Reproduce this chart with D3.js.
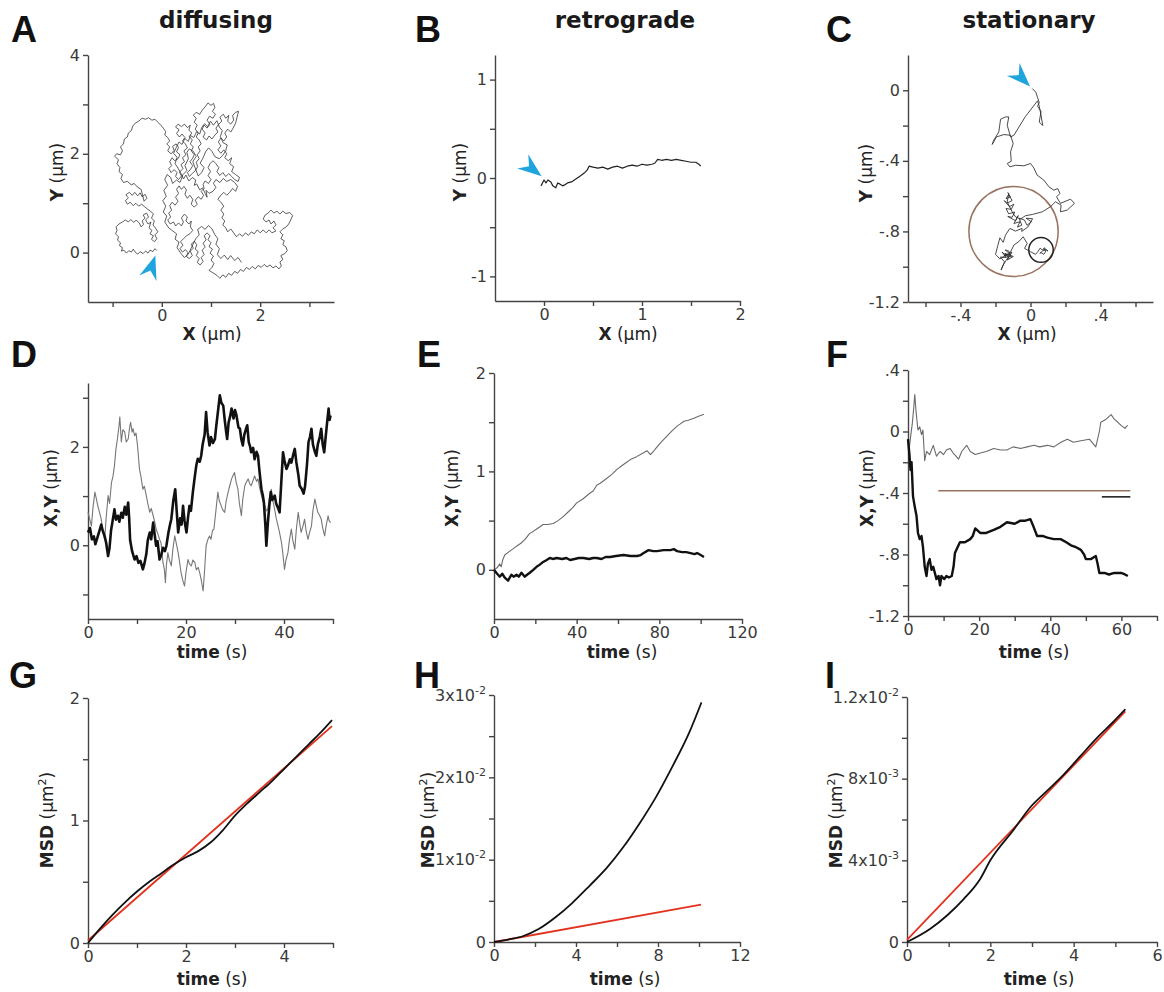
<!DOCTYPE html>
<html>
<head>
<meta charset="utf-8">
<script src="https://cdn.jsdelivr.net/npm/d3@7"></script>
<style>
  body { margin: 0; background: #fff; }
  svg { font-family: "DejaVu Sans", "Liberation Sans", Arial, sans-serif; }
  .axis path, .axis line { stroke: #444; stroke-width: 1.4px; }
  .axis text { fill: #3a3a3a; font-size: 16px; font-family: "DejaVu Sans", sans-serif; }
</style>
</head>
<body>
<svg id="fig" width="1164" height="992"></svg>
<script>
// ---------- data (µm, s) ----------
const titles = ["diffusing", "retrograde", "stationary"];
const letters = ["A", "B", "C", "D", "E", "F", "G", "H", "I"];

// 2D trajectories [x, y]
const trackA = [[-0.10,0.04],[-0.14,0.08],[-0.18,0.02],[-0.24,0.05],[-0.28,-0.01],[-0.33,0.03],[-0.38,-0.02],[-0.44,0.02],[-0.49,-0.03],[-0.54,0.01],[-0.58,0.07],[-0.62,0.01],[-0.67,0.04],[-0.72,-0.01],[-0.77,0.05],[-0.82,0.03],[-0.80,0.10],[-0.86,0.14],[-0.84,0.20],[-0.90,0.25],[-0.88,0.32],[-0.94,0.38],[-0.91,0.45],[-0.93,0.52],[-0.87,0.58],[-0.80,0.62],[-0.74,0.66],[-0.68,0.62],[-0.63,0.67],[-0.57,0.61],[-0.52,0.66],[-0.46,0.60],
  [-0.42,0.52],[-0.37,0.57],[-0.40,0.64],[-0.34,0.70],[-0.38,0.76],[-0.31,0.80],[-0.27,0.72],[-0.33,0.66],[-0.28,0.58],[-0.22,0.62],[-0.26,0.50],[-0.20,0.45],[-0.24,0.38],[-0.17,0.34],[-0.21,0.27],[-0.15,0.22],[-0.10,0.28],[-0.14,0.36],[-0.08,0.42],[-0.13,0.50],[-0.18,0.56],[-0.15,0.64],[-0.21,0.70],[-0.17,0.78],[-0.23,0.84],[-0.29,0.88],
  [-0.35,0.93],[-0.41,0.98],[-0.47,0.94],[-0.53,1.00],[-0.58,0.95],[-0.64,1.02],[-0.70,0.98],[-0.74,1.05],[-0.68,1.11],[-0.73,1.17],[-0.66,1.22],[-0.60,1.16],[-0.55,1.22],[-0.49,1.15],[-0.44,1.21],[-0.40,1.13],[-0.34,1.18],[-0.30,1.10],[-0.36,1.04],
  [-0.42,1.28],[-0.50,1.33],[-0.56,1.40],[-0.62,1.37],[-0.70,1.44],[-0.78,1.42],[-0.83,1.50],[-0.80,1.58],[-0.87,1.64],[-0.85,1.72],[-0.91,1.80],[-0.88,1.88],[-0.96,1.95],[-0.92,2.00],[-0.84,1.98],[-0.80,2.06],[-0.84,2.14],[-0.78,2.20],[-0.76,2.30],[-0.70,2.34],[-0.68,2.42],[-0.62,2.47],[-0.59,2.56],[-0.54,2.62],[-0.47,2.66],[-0.40,2.72],[-0.33,2.70],[-0.27,2.73],[-0.20,2.68],[-0.14,2.70],[-0.08,2.64],[-0.02,2.58],[0.03,2.52],[0.08,2.45],[0.06,2.38],[0.12,2.33],[0.16,2.26],
  [0.10,2.20],[0.16,2.14],[0.12,2.06],[0.19,2.00],[0.25,2.07],[0.22,2.15],[0.29,2.20],[0.34,2.13],[0.30,2.04],[0.37,1.98],[0.33,1.90],[0.26,1.86],[0.21,1.92],[0.16,1.84],[0.20,1.76],[0.14,1.70],[0.19,1.62],[0.25,1.68],[0.31,1.62],[0.28,1.54],[0.34,1.48],[0.40,1.55],[0.36,1.63],[0.43,1.70],[0.39,1.78],[0.46,1.84],[0.42,1.92],[0.49,1.98],[0.45,2.06],[0.52,2.12],[0.48,2.20],[0.42,2.26],[0.47,2.33],[0.41,2.40],[0.36,2.34],[0.30,2.41],[0.35,2.49],[0.28,2.54],[0.33,2.60],[0.40,2.55],[0.46,2.60],[0.52,2.53],[0.58,2.58],[0.55,2.48],[0.61,2.42],[0.56,2.35],[0.62,2.28],[0.58,2.20],[0.64,2.14],[0.60,2.06],[0.66,1.98],[0.62,1.90],[0.57,1.84],[0.63,1.76],[0.58,1.68],[0.52,1.62],[0.56,1.54],
  [0.62,1.60],[0.68,1.66],[0.73,1.74],[0.70,1.83],[0.76,1.90],[0.72,1.98],[0.78,2.06],[0.74,2.14],[0.80,2.20],[0.76,2.28],[0.70,2.34],[0.74,2.42],[0.68,2.50],[0.72,2.58],[0.66,2.64],[0.70,2.72],[0.64,2.78],[0.70,2.84],[0.77,2.80],[0.82,2.88],[0.88,2.95],[0.94,3.03],[1.00,2.98],[1.05,3.02],[1.08,2.94],[1.03,2.86],[1.09,2.80],[1.04,2.72],[0.97,2.76],[0.92,2.68],[0.98,2.60],[0.92,2.52],[0.86,2.58],[0.82,2.50],[0.88,2.42],[0.84,2.34],[0.91,2.28],[0.96,2.36],[1.02,2.30],[1.08,2.38],[1.14,2.44],[1.10,2.52],[1.16,2.60],[1.22,2.66],[1.18,2.74],[1.25,2.80],[1.30,2.72],[1.36,2.78],[1.34,2.66],[1.40,2.60],[1.46,2.68],[1.44,2.78],[1.50,2.84],[1.56,2.86],[1.53,2.74],[1.50,2.62],[1.45,2.52],[1.40,2.44],[1.34,2.50],[1.28,2.42],[1.32,2.34],[1.26,2.26],[1.20,2.32],[1.15,2.24],[1.20,2.16],[1.14,2.08],[1.20,2.01],[1.26,2.08],[1.32,2.00],[1.28,1.92],[1.35,1.86],[1.42,1.92],[1.38,1.80],[1.46,1.74],[1.42,1.64],[1.50,1.58],[1.58,1.52],[1.55,1.44],[1.48,1.48],[1.42,1.54],[1.36,1.60],[1.30,1.54],[1.24,1.62],[1.18,1.56],[1.12,1.64],[1.16,1.72],[1.10,1.80],[1.04,1.86],[0.98,1.80],[0.94,1.72],[0.99,1.64],[0.94,1.56],[1.00,1.48],[0.95,1.40],[0.88,1.45],[0.84,1.38],
  [0.86,1.30],[0.80,1.24],[0.85,1.16],[0.80,1.08],[0.74,1.13],[0.68,1.06],[0.72,0.98],[0.66,0.92],[0.60,0.98],[0.63,1.08],[0.57,1.16],[0.52,1.10],[0.47,1.18],[0.50,1.27],[0.45,1.34],[0.40,1.28],[0.35,1.35],[0.30,1.28],[0.34,1.20],[0.28,1.12],[0.33,1.04],[0.27,0.96],[0.21,1.02],[0.16,0.95],[0.20,0.86],[0.14,0.80],[0.18,0.72],[0.12,0.66],[0.17,0.58],[0.24,0.62],[0.28,0.54],[0.34,0.60],[0.40,0.54],[0.44,0.62],[0.40,0.70],[0.46,0.78],[0.52,0.72],[0.49,0.64],[0.55,0.58],[0.60,0.64],[0.58,0.52],[0.63,0.45],[0.57,0.38],
  [0.50,0.34],[0.44,0.28],[0.38,0.22],[0.43,0.15],[0.37,0.08],[0.42,0.01],[0.48,0.06],[0.53,0.00],[0.50,-0.08],[0.56,-0.12],[0.62,-0.06],[0.58,0.03],[0.64,0.09],[0.60,0.17],[0.66,0.23],[0.71,0.16],[0.68,0.07],[0.74,0.02],[0.70,-0.06],[0.76,-0.12],[0.72,-0.20],[0.78,-0.25],[0.84,-0.18],[0.80,-0.10],[0.86,-0.04],[0.82,0.05],[0.88,0.11],[0.84,0.19],[0.90,0.26],[0.86,0.34],[0.92,0.40],[0.98,0.34],[0.94,0.26],[1.00,0.20],[0.96,0.12],[1.03,0.07],[0.98,-0.01],[1.05,-0.07],[1.00,-0.15],[1.06,-0.22],[1.02,-0.30],[0.96,-0.36],[1.04,-0.41],[1.12,-0.46],[1.18,-0.52],
  [1.24,-0.45],[1.30,-0.50],[1.36,-0.42],[1.42,-0.46],[1.48,-0.38],[1.54,-0.42],[1.60,-0.34],[1.66,-0.38],[1.72,-0.30],[1.78,-0.34],[1.84,-0.28],[1.90,-0.33],[1.96,-0.26],[2.02,-0.30],[2.08,-0.24],[2.14,-0.29],[2.20,-0.25],[2.26,-0.31],[2.32,-0.27],[2.38,-0.33],[2.43,-0.27],[2.40,-0.19],[2.46,-0.14],[2.42,-0.06],[2.50,-0.02],[2.55,0.04],[2.52,0.12],[2.46,0.16],[2.49,0.24],[2.42,0.28],[2.46,0.36],[2.40,0.42],[2.46,0.48],[2.53,0.52],[2.58,0.58],[2.62,0.66],[2.66,0.75],[2.60,0.81],[2.52,0.79],[2.46,0.84],[2.40,0.78],[2.34,0.84],[2.28,0.80],[2.22,0.86],[2.16,0.80],[2.10,0.76],[2.06,0.68],[2.12,0.62],[2.18,0.66],[2.22,0.58],[2.28,0.64],[2.32,0.56],[2.26,0.50],[2.32,0.44],[2.24,0.40],[2.18,0.46],[2.12,0.40],[2.06,0.46],[2.00,0.40],[1.94,0.46],[1.88,0.38],[1.82,0.42],[1.76,0.35],[1.70,0.40],[1.64,0.33],[1.58,0.38],[1.52,0.32],[1.46,0.40],[1.40,0.48],[1.34,0.42],[1.30,0.50],[1.24,0.56],[1.28,0.64],[1.22,0.70],[1.26,0.78],[1.20,0.86],[1.26,0.94],[1.20,1.02],[1.14,1.08],[1.20,1.16],[1.26,1.22],[1.32,1.16],[1.38,1.22],[1.44,1.30],[1.50,1.24],[1.54,1.34],[1.48,1.42],
  [1.40,1.48],[1.32,1.44],[1.25,1.50],[1.18,1.42],[1.10,1.48],[1.05,1.40],[1.10,1.32],[1.04,1.24],[0.96,1.20],[0.90,1.26],[0.92,1.12],
  [0.88,1.20],[0.83,1.31],[0.77,1.27],[0.71,1.39],[0.66,1.36],[0.69,1.47],[0.62,1.52],[0.55,1.45],[0.49,1.57],[0.44,1.49],[0.38,1.62],[0.33,1.71],[0.27,1.80],[0.31,1.93],[0.24,2.01],[0.29,2.12],[0.35,2.24],[0.41,2.19],[0.47,2.31],[0.54,2.25],[0.58,2.37],[0.65,2.33],[0.71,2.45],[0.77,2.40],[0.81,2.53],[0.87,2.61],[0.93,2.55],[0.99,2.66],[1.05,2.58],[1.12,2.67],[1.17,2.54],[1.23,2.47],[1.19,2.35],[1.25,2.22],[1.33,2.18],[1.30,2.06],[1.24,1.97],[1.17,1.90],[1.08,1.94],[1.02,2.05],[0.95,2.12],[0.89,2.04],[0.84,1.92],[0.78,1.81],[0.86,1.72],[0.81,1.62],[0.74,1.55],[0.68,1.71],[0.63,1.84],[0.70,1.95],[0.64,2.05],[0.56,2.10],[0.51,2.03],[0.54,1.90],[0.47,1.76],[0.51,1.66],[0.43,1.58],[0.37,1.42],[0.30,1.47],[0.22,1.40],[0.18,1.52],[0.11,1.58],[0.06,1.48],[0.12,1.36],[0.04,1.26],[0.09,1.14],[0.02,1.05],[0.08,0.94],[0.03,0.82],[0.10,0.74],[0.06,0.62],[0.14,0.50],[0.22,0.44],[0.30,0.38],[0.27,0.27],[0.35,0.21],[0.31,0.10],[0.39,-0.02],[0.46,-0.10],[0.54,-0.03],[0.61,0.12],[0.69,0.28],[0.76,0.36],[0.73,0.47],[0.81,0.53],[0.88,0.47],[0.95,0.55],[1.02,0.48],[1.08,0.36],[1.14,0.28],[1.10,0.17],[1.17,0.08],[1.13,-0.04],[1.20,-0.12],[1.27,-0.05],[1.34,-0.14],[1.40,-0.06],[1.48,-0.16],[1.55,-0.10],[1.62,-0.20]];

const trackB = [[-0.03,-0.08],[0,-0.02],[0.02,-0.05],[0.04,-0.02],[0.07,-0.04],[0.09,-0.08],[0.12,-0.10],[0.14,-0.05],[0.16,-0.06],[0.19,-0.08],[0.21,-0.07],[0.24,-0.05],[0.28,-0.04],[0.31,-0.02],[0.34,0.0],[0.37,0.02],[0.41,0.05],[0.44,0.08],[0.46,0.12],[0.50,0.11],[0.55,0.10],[0.60,0.11],[0.65,0.09],[0.70,0.11],[0.75,0.12],[0.80,0.10],[0.85,0.12],[0.90,0.13],[0.95,0.12],[1.00,0.14],[1.05,0.13],[1.10,0.14],[1.13,0.15],[1.16,0.19],[1.20,0.18],[1.25,0.19],[1.30,0.18],[1.35,0.19],[1.40,0.18],[1.45,0.17],[1.50,0.16],[1.55,0.16],[1.58,0.14],[1.60,0.12]];

const trackC = [[0.01,0.01],[0.03,-0.01],[0.04,-0.04],[0.05,-0.07],[0.04,-0.09],[0.06,-0.12],[0.05,-0.18],[0.07,-0.20],[0.06,-0.14],[0.05,-0.09],[0.04,-0.06],[-0.03,-0.15],[-0.095,-0.255],[-0.114,-0.264],[-0.133,-0.198],[-0.124,-0.151],[-0.143,-0.151],[-0.171,-0.164],[-0.181,-0.236],[-0.21,-0.283],[-0.219,-0.307],[-0.194,-0.264],[-0.152,-0.251],[-0.114,-0.255],[-0.099,-0.302],[-0.114,-0.349],[-0.11,-0.402],[-0.133,-0.415],[-0.118,-0.434],[-0.086,-0.425],[-0.038,-0.428],[0,-0.415],[0.019,-0.44],[0.038,-0.481],[0.076,-0.509],[0.105,-0.547],[0.133,-0.566],[0.156,-0.557],[0.168,-0.585],[0.149,-0.604],[0.171,-0.641],[0.229,-0.617],[0.251,-0.641],[0.21,-0.679],[0.171,-0.689],[0.175,-0.651],[0.143,-0.632],[0.114,-0.66],[0.067,-0.689],[0.01,-0.704],[-0.029,-0.711],[-0.057,-0.73],[-0.086,-0.717],[-0.105,-0.689],[-0.133,-0.632],[-0.124,-0.585],
  [-0.13,-0.58],[-0.115,-0.605],[-0.14,-0.615],[-0.125,-0.59],[-0.105,-0.625],[-0.135,-0.64],[-0.15,-0.625],[-0.12,-0.66],[-0.095,-0.645],[-0.11,-0.675],[-0.14,-0.67],[-0.125,-0.70],[-0.09,-0.69],[-0.105,-0.72],[-0.13,-0.715],[-0.085,-0.74],[-0.07,-0.71],[-0.095,-0.755],[-0.06,-0.745],[-0.075,-0.775],[-0.05,-0.765],[-0.065,-0.725],[-0.035,-0.735],[-0.02,-0.765],[0.005,-0.745],[-0.025,-0.725],[0.012,-0.728],[-0.015,-0.775],[-0.05,-0.80],
  [-0.048,-0.783],[-0.086,-0.798],[-0.118,-0.783],[-0.143,-0.821],[-0.156,-0.862],[-0.175,-0.836],[-0.187,-0.881],[-0.2,-0.93],[-0.175,-0.956],[-0.137,-0.933],[-0.11,-0.945],[-0.124,-0.911],[-0.145,-0.905],[-0.118,-0.927],[-0.152,-0.938],[-0.106,-0.918],[-0.133,-0.962],[-0.098,-0.942],[-0.147,-0.924],[-0.121,-0.953],[-0.163,-0.917],[-0.138,-0.948],[-0.172,-0.945],[-0.149,-0.972],[-0.152,-0.981],[-0.168,-1.019],[-0.156,-0.99],[-0.13,-0.95],[-0.095,-0.877],[-0.067,-0.858],[-0.042,-0.83],[-0.019,-0.868],[-0.034,-0.896],[0,-0.915],[0.029,-0.93],
  [0.042,-0.915],[0.055,-0.895],[0.067,-0.905],[0.08,-0.892],[0.086,-0.915],[0.076,-0.93],[0.06,-0.92],[0.053,-0.924],[0.07,-0.91],[0.09,-0.905],[0.1,-0.911],[0.085,-0.9],[0.072,-0.905]];

// start points marked by the blue arrowheads, and confinement circles [cx, cy, r]
const arrowTargets = [[-0.10, 0.04], [0.0, 0.0], [0.01, 0.01]];
const circleBig = [-0.097, -0.80, 0.255];
const circleSmall = [0.06, -0.905, 0.07];

// time courses [t, value]; X thin, Y thick
const dTraceX = [[0,0.67],[0.3,0.55],[0.7,0.39],[1.0,0.75],[1.4,1.08],[1.7,0.95],[2.0,0.80],[2.4,0.65],[2.7,0.53],[3.0,0.30],[3.4,0.12],[3.7,0.55],[4.1,1.01],[4.4,0.85],[4.8,1.28],[5.1,1.40],[5.4,1.62],[5.7,1.95],[6.0,2.16],[6.3,2.40],[6.5,2.61],[6.8,2.10],[7.1,2.35],[7.5,2.30],[7.8,2.10],[8.2,2.16],[8.5,2.40],[8.7,2.50],[9.0,2.30],[9.2,2.37],[9.5,2.23],[9.8,2.28],[10.1,2.03],[10.3,1.80],[10.5,1.55],[10.8,1.40],[11.2,1.14],[11.5,1.20],[11.9,1.01],[12.2,0.85],[12.6,0.67],[12.9,0.75],[13.3,0.60],[13.6,0.48],[13.9,0.33],[14.2,0.25],[14.6,0.12],[14.9,0.05],[15.3,-0.35],[15.6,-0.50],[15.8,-0.76],[16.0,-0.40],[16.3,-0.15],[16.6,-0.30],[17.0,-0.42],[17.3,-0.10],[17.7,0.19],[18.0,0.05],[18.4,-0.15],[18.7,-0.35],[19.0,-0.56],[19.3,-0.70],[19.7,-0.83],[20.0,-0.55],[20.4,-0.29],[20.7,-0.38],[21.1,-0.42],[21.4,-0.30],[21.8,-0.35],[22.1,-0.50],[22.5,-0.45],[22.8,-0.56],[23.1,-0.70],[23.5,-0.93],[23.8,-0.50],[24.1,-0.01],[24.4,0.10],[24.8,0.19],[25.1,0.12],[25.4,0.30],[25.7,0.33],[26.1,0.70],[26.5,1.08],[26.8,0.90],[27.2,0.80],[27.5,0.72],[27.9,0.67],[28.2,0.90],[28.6,1.08],[28.9,1.20],[29.3,1.35],[29.6,1.42],[29.9,1.48],[30.2,1.30],[30.6,1.14],[30.9,0.85],[31.3,0.60],[31.6,0.95],[32.0,1.21],[32.3,1.28],[32.7,1.35],[33.0,1.25],[33.3,1.21],[33.7,1.32],[34.0,1.41],[34.4,1.30],[34.7,1.35],[35.0,1.18],[35.4,1.01],[35.7,0.90],[36.1,0.80],[36.4,0.70],[36.7,0.73],[37.0,0.95],[37.4,1.14],[37.7,0.92],[38.1,0.73],[38.4,0.55],[38.8,0.39],[39.1,0.25],[39.5,0.05],[39.8,-0.20],[40.1,-0.49],[40.4,-0.30],[40.8,-0.15],[41.1,0.10],[41.5,0.33],[41.8,0.10],[42.2,-0.08],[42.5,0.30],[42.9,0.67],[43.2,0.45],[43.5,0.26],[43.9,0.40],[44.2,0.53],[44.5,0.30],[44.9,0.12],[45.2,0.25],[45.6,0.39],[45.9,0.70],[46.3,0.94],[46.6,0.80],[46.9,0.67],[47.3,0.60],[47.6,0.53],[47.9,0.35],[48.3,0.19],[48.6,0.40],[49.0,0.60],[49.2,0.50],[49.5,0.46]];
const dTraceY = [[0,0.26],[0.4,0.35],[0.8,0.12],[1.2,0.18],[1.5,0.02],[1.9,0.15],[2.3,0.28],[2.7,0.42],[3.0,0.30],[3.4,0.18],[3.7,0.05],[4.1,-0.22],[4.4,-0.05],[4.7,0.30],[5.0,0.48],[5.4,0.73],[5.7,0.52],[6.1,0.60],[6.4,0.48],[6.8,0.66],[7.1,0.56],[7.5,0.78],[7.8,0.62],[8.2,0.87],[8.4,0.55],[8.6,0.10],[9.0,-0.12],[9.5,-0.29],[9.9,-0.22],[10.3,-0.36],[10.7,-0.32],[11.2,-0.49],[11.5,-0.38],[11.9,-0.18],[12.2,0.10],[12.6,0.26],[12.9,0.12],[13.3,0.46],[13.6,0.22],[13.9,-0.01],[14.2,0.08],[14.6,-0.29],[15.0,-0.18],[15.3,-0.05],[15.7,-0.12],[16.0,-0.01],[16.4,0.25],[16.7,0.40],[17.0,0.53],[17.4,0.90],[17.8,1.14],[18.1,0.70],[18.4,0.26],[18.8,0.55],[19.1,0.42],[19.4,0.80],[19.7,0.50],[20.1,0.26],[20.4,0.55],[20.7,0.80],[21.0,0.70],[21.4,1.08],[21.8,1.40],[22.1,1.62],[22.4,1.76],[22.8,1.70],[23.1,1.82],[23.4,2.05],[23.8,2.25],[24.1,2.71],[24.4,2.30],[24.8,2.03],[25.1,2.20],[25.5,2.08],[25.9,2.16],[26.2,2.45],[26.5,2.70],[26.9,3.05],[27.2,2.90],[27.6,2.84],[27.9,2.55],[28.2,2.30],[28.4,2.16],[28.7,2.50],[29.0,2.62],[29.3,2.78],[29.7,2.58],[30.0,2.75],[30.3,2.64],[30.7,2.40],[31.0,2.37],[31.3,2.15],[31.6,2.03],[31.9,2.25],[32.2,2.35],[32.5,2.44],[32.8,2.10],[33.1,2.00],[33.3,1.89],[33.7,1.98],[34.0,1.75],[34.4,1.90],[34.7,1.82],[35.0,1.50],[35.4,1.14],[35.7,1.00],[35.9,0.87],[36.2,0.40],[36.4,-0.01],[36.7,0.45],[37.0,0.80],[37.3,1.08],[37.6,0.92],[38.1,1.01],[38.4,0.85],[38.8,0.75],[39.1,0.67],[39.4,1.20],[39.8,1.89],[40.1,1.72],[40.5,1.55],[40.8,1.62],[41.2,1.75],[41.5,1.68],[41.9,1.85],[42.2,1.96],[42.5,1.70],[42.9,1.45],[43.2,1.21],[43.6,1.15],[44.0,1.05],[44.3,1.20],[44.7,1.65],[45.0,2.10],[45.3,2.20],[45.6,2.37],[45.9,2.05],[46.3,1.90],[46.6,1.82],[46.9,2.05],[47.3,2.20],[47.6,2.37],[47.9,2.05],[48.2,1.89],[48.5,2.20],[48.8,2.50],[49.1,2.78],[49.3,2.55],[49.5,2.64]];

const eTraceX = [[0,0],[1.5,0.02],[2.8,0.06],[3.5,0.03],[4.2,0.10],[5.2,0.15],[7,0.18],[9,0.21],[10.9,0.24],[13,0.27],[15,0.31],[17.3,0.37],[19,0.39],[21,0.42],[23.8,0.46],[26,0.46],[28.7,0.47],[31,0.50],[33.5,0.54],[36,0.59],[38,0.63],[40,0.68],[43,0.72],[46.5,0.78],[48,0.80],[49.7,0.86],[51.4,0.88],[54,0.92],[57,0.97],[59.5,1.02],[62,1.06],[64,1.09],[66,1.12],[69,1.15],[72.4,1.19],[74,1.21],[75.7,1.17],[77,1.20],[78.9,1.25],[81,1.30],[83.8,1.36],[86,1.41],[88.6,1.46],[90,1.48],[91.9,1.51],[94,1.52],[96.7,1.54],[99,1.56],[101.6,1.58]];
const eTraceY = [[0,0],[1.1,-0.03],[2.8,-0.07],[4,-0.04],[5.2,-0.08],[6.8,-0.11],[8.4,-0.05],[9.5,-0.07],[10.9,-0.05],[12,-0.07],[13.3,-0.03],[14.9,-0.07],[16,-0.05],[17.3,-0.03],[19,0.0],[20.6,0.03],[22,0.05],[23.8,0.08],[25.5,0.10],[27,0.12],[28.5,0.11],[30.3,0.12],[33,0.11],[35,0.12],[36.8,0.10],[39,0.11],[41,0.12],[43.3,0.12],[46,0.11],[48,0.12],[49.7,0.12],[52,0.11],[54,0.13],[56.2,0.13],[59,0.14],[62.7,0.15],[66,0.14],[69.2,0.14],[71,0.15],[72.4,0.17],[74.8,0.20],[77,0.19],[78.9,0.19],[82,0.20],[85.4,0.20],[87,0.21],[88.6,0.19],[91,0.18],[93,0.18],[95.1,0.17],[97,0.16],[98.3,0.17],[100,0.15],[101.6,0.13]];

const fTraceX = [[0.3,-0.12],[0.8,-0.02],[1.2,0.05],[1.6,0.15],[1.9,0.24],[2.3,0.12],[2.8,0.01],[3.3,0.03],[3.8,-0.02],[4.2,0.01],[4.7,-0.19],[5.2,-0.13],[6.1,-0.15],[7.1,-0.09],[8,-0.16],[9,-0.13],[10,-0.15],[10.8,-0.12],[11.8,-0.11],[12.7,-0.14],[13.5,-0.16],[14.2,-0.18],[15.1,-0.13],[16.5,-0.09],[17.5,-0.13],[18.9,-0.15],[20.3,-0.14],[22,-0.13],[24.1,-0.11],[26,-0.12],[27.8,-0.12],[29.5,-0.10],[31.6,-0.11],[33.5,-0.10],[35.4,-0.09],[37,-0.10],[39.2,-0.09],[41,-0.10],[43,-0.07],[44.8,-0.05],[46.5,-0.07],[48.6,-0.06],[51,-0.05],[52.8,-0.10],[53.8,0.0],[54.2,0.06],[55.7,0.08],[57.1,0.11],[58,0.08],[59,0.06],[59.9,0.04],[61,0.02],[61.3,0.03],[61.8,0.04]];
const fTraceY = [[0,-0.05],[0.4,-0.15],[0.7,-0.25],[1.0,-0.20],[1.4,-0.42],[1.9,-0.49],[2.4,-0.55],[2.8,-0.66],[3.3,-0.70],[3.8,-0.68],[4.2,-0.75],[4.7,-0.88],[5.2,-0.94],[5.6,-0.86],[6.1,-0.83],[6.6,-0.90],[7.1,-0.88],[8,-0.96],[8.6,-0.94],[9,-1.0],[9.4,-0.94],[10.2,-0.96],[10.8,-0.94],[11.5,-0.95],[12.3,-0.94],[12.8,-0.88],[13.2,-0.79],[14,-0.75],[14.6,-0.72],[16,-0.72],[17.5,-0.70],[18.2,-0.68],[18.9,-0.63],[20.3,-0.66],[22,-0.66],[24.1,-0.64],[26,-0.62],[27.8,-0.59],[30,-0.60],[31.6,-0.58],[33,-0.58],[34.4,-0.57],[35.3,-0.62],[36.3,-0.68],[38,-0.68],[39.2,-0.69],[41,-0.70],[42.9,-0.70],[44.5,-0.72],[45.8,-0.74],[47,-0.75],[48.6,-0.77],[49.5,-0.80],[50,-0.83],[51.4,-0.83],[52.8,-0.81],[53.3,-0.86],[53.8,-0.92],[55.2,-0.92],[56.5,-0.93],[58,-0.92],[59.9,-0.92],[61,-0.93],[61.8,-0.94]];
// time windows of the two circles in C: [tStart, tEnd, level]
const fBrownBar = [8.5, 62.5, -0.385];
const fBlackBar = [54.5, 62.5, -0.425];

// mean squared displacement [lag, MSD] and linear fits
const gMsd = [[0,0],[0.25,0.12],[0.5,0.23],[0.75,0.33],[1,0.42],[1.25,0.5],[1.5,0.57],[1.75,0.64],[2,0.7],[2.25,0.75],[2.5,0.82],[2.75,0.92],[3,1.04],[3.25,1.14],[3.5,1.23],[3.75,1.32],[4,1.42],[4.25,1.52],[4.5,1.62],[4.75,1.72],[4.98,1.82]];
const gFit = [[0,0.02],[4.98,1.77]];
const hMsd = [[0,0],[0.7,0.0003],[1.4,0.0007],[2.2,0.0016],[3.0,0.0030],[3.8,0.0047],[4.65,0.0068],[5.5,0.0090],[6.3,0.0115],[7.1,0.0144],[7.9,0.0176],[8.7,0.0213],[9.5,0.0253],[10.12,0.0291]];
const hFit = [[0,0],[10.1,0.00453]];
const iMsd = [[0,0],[0.56,0.00065],[0.96,0.0013],[1.36,0.0021],[1.76,0.0031],[2,0.0040],[2.56,0.0055],[2.96,0.0066],[3.36,0.0074],[3.76,0.0082],[4.16,0.0091],[4.56,0.0100],[4.96,0.0108],[5.24,0.0114]];
const iFit = [[0,0.0001],[5.24,0.0113]];

// ticks and their labels ("" = unlabeled tick, "^" = superscript)
const aXTicks = [-1,0,1,2,3], aXLabels = ["","0","","2",""];
const aYTicks = [0,1,2,3,4], aYLabels = ["0","","2","","4"];
const bXTicks = [0,0.5,1,1.5,2], bXLabels = ["0","","1","","2"];
const bYTicks = [-1,-0.5,0,0.5,1], bYLabels = ["-1","","0","","1"];
const cXTicks = [-0.6,-0.4,-0.2,0,0.2,0.4,0.6], cXLabels = ["","-.4","","0","",".4",""];
const cYTicks = [-1.2,-1,-0.8,-0.6,-0.4,-0.2,0], cYLabels = ["-1.2","","-.8","","-.4","","0"];
const dXTicks = [0,10,20,30,40,50], dXLabels = ["0","","20","","40",""];
const dYTicks = [-1,0,1,2,3], dYLabels = ["","0","","2",""];
const eXTicks = [0,20,40,60,80,100,120], eXLabels = ["0","","40","","80","","120"];
const eYTicks = [0,0.5,1,1.5,2], eYLabels = ["0","","1","","2"];
const fXTicks = [0,10,20,30,40,50,60,70], fXLabels = ["0","","20","","40","","60",""];
const fYTicks = [-1.2,-1,-0.8,-0.6,-0.4,-0.2,0,0.2,0.4], fYLabels = ["-1.2","","-.8","","-.4","","0","",".4"];
const gXTicks = [0,1,2,3,4,5], gXLabels = ["0","","2","","4",""];
const gYTicks = [0,0.5,1,1.5,2], gYLabels = ["0","","1","","2"];
const hXTicks = [0,2,4,6,8,10,12], hXLabels = ["0","","4","","8","","12"];
const hYTicks = [0,0.005,0.01,0.015,0.02,0.025,0.03], hYLabels = ["0","","1x10^-2","","2x10^-2","","3x10^-2"];
const iXTicks = [0,1,2,3,4,5,6], iXLabels = ["0","","2","","4","","6"];
const iYTicks = [0,0.002,0.004,0.006,0.008,0.01,0.012], iYLabels = ["0","","4x10^-3","","8x10^-3","","1.2x10^-2"];

// ---------- layout ----------
const svg = d3.select("#fig");
const BLUE = "#1fa5de", RED = "#e2321f", BROWN = "#98735f";

const layout = {
  A: { l: 88,  r: 334,  t: 55,  b: 302, xd: [-1.5, 3.5], yd: [-1, 4] },
  B: { l: 495, r: 740,  t: 55,  b: 301, xd: [-0.5, 2],   yd: [-1.25, 1.25] },
  C: { l: 908, r: 1153, t: 55,  b: 302, xd: [-0.7, 0.7], yd: [-1.2, 0.2] },
  D: { l: 88,  r: 333,  t: 383, b: 619, xd: [0, 50],     yd: [-1.5, 3.3] },
  E: { l: 494, r: 742,  t: 373, b: 619, xd: [0, 120],    yd: [-0.5, 2] },
  F: { l: 908, r: 1157, t: 370, b: 616, xd: [0, 70],     yd: [-1.2, 0.4] },
  G: { l: 88,  r: 333,  t: 698, b: 943, xd: [0, 5],      yd: [0, 2] },
  H: { l: 494, r: 740,  t: 695, b: 942, xd: [0, 12],     yd: [0, 0.03] },
  I: { l: 907, r: 1157, t: 697, b: 942, xd: [0, 6],      yd: [0, 0.012] }
};

function writeLabel(sel, s) {
  sel.text(null);
  const parts = s.split("^");
  sel.append("tspan").text(parts[0]);
  if (parts[1]) sel.append("tspan").attr("dy", -7).attr("font-size", 11).text(parts[1]);
}

function panel(p, xt, xl, yt, yl) {
  const x = d3.scaleLinear().domain(p.xd).range([p.l, p.r]);
  const y = d3.scaleLinear().domain(p.yd).range([p.b, p.t]);
  const g = svg.append("g");

  g.append("g").attr("class", "axis").attr("transform", `translate(0,${p.b})`)
    .call(d3.axisBottom(x).tickValues(xt).tickSize(5).tickSizeOuter(0).tickPadding(3)
      .tickFormat((d, i) => xl[i]));
  const ay = g.append("g").attr("class", "axis").attr("transform", `translate(${p.l},0)`)
    .call(d3.axisLeft(y).tickValues(yt).tickSize(5).tickSizeOuter(0).tickPadding(3)
      .tickFormat((d, i) => yl[i]));
  ay.selectAll(".tick text").each(function (d, i) { writeLabel(d3.select(this), yl[i]); });
  return { x, y, g };
}

function drawLine(pn, data, color, width, curve) {
  pn.g.append("path")
    .datum(data)
    .attr("fill", "none")
    .attr("stroke", color)
    .attr("stroke-width", width)
    .attr("stroke-linejoin", "round")
    .attr("d", d3.line().x(d => pn.x(d[0])).y(d => pn.y(d[1])).curve(curve || d3.curveLinear));
}

function arrowhead(pn, pt, angle, gap) {
  const a = angle * Math.PI / 180;
  const tx = pn.x(pt[0]) - gap * Math.cos(a);
  const ty = pn.y(pt[1]) - gap * Math.sin(a);
  pn.g.append("path")
    .attr("d", "M0,0 L-24,-9 L-16,0 L-24,9 Z")
    .attr("fill", BLUE)
    .attr("transform", `translate(${tx},${ty}) rotate(${angle})`);
}

function circle(pn, c, color) {
  pn.g.append("ellipse")
    .attr("cx", pn.x(c[0])).attr("cy", pn.y(c[1]))
    .attr("rx", pn.x(c[0] + c[2]) - pn.x(c[0]))
    .attr("ry", pn.y(c[1]) - pn.y(c[1] + c[2]))
    .attr("fill", "none").attr("stroke", color).attr("stroke-width", 1.5);
}

// ---------- panels ----------
const pA = panel(layout.A, aXTicks, aXLabels, aYTicks, aYLabels);
drawLine(pA, trackA, "#2a2a2a", 0.75);
arrowhead(pA, arrowTargets[0], -72, 5);

const pB = panel(layout.B, bXTicks, bXLabels, bYTicks, bYLabels);
drawLine(pB, trackB, "#222", 1.2);
arrowhead(pB, arrowTargets[1], 38, 3);

const pC = panel(layout.C, cXTicks, cXLabels, cYTicks, cYLabels);
circle(pC, circleBig, BROWN);
circle(pC, circleSmall, "#222");
drawLine(pC, trackC, "#2a2a2a", 0.85);
arrowhead(pC, arrowTargets[2], 45, 3);

const pD = panel(layout.D, dXTicks, dXLabels, dYTicks, dYLabels);
drawLine(pD, dTraceX, "#777", 1.1);
drawLine(pD, dTraceY, "#111", 2.6);

const pE = panel(layout.E, eXTicks, eXLabels, eYTicks, eYLabels);
drawLine(pE, eTraceX, "#6a6a6a", 1.1);
drawLine(pE, eTraceY, "#111", 2.4);

const pF = panel(layout.F, fXTicks, fXLabels, fYTicks, fYLabels);
drawLine(pF, fTraceX, "#6a6a6a", 1.1);
drawLine(pF, fTraceY, "#111", 2.4);
drawLine(pF, [[fBrownBar[0], fBrownBar[2]], [fBrownBar[1], fBrownBar[2]]], BROWN, 1.4);
drawLine(pF, [[fBlackBar[0], fBlackBar[2]], [fBlackBar[1], fBlackBar[2]]], "#222", 1.6);

const pG = panel(layout.G, gXTicks, gXLabels, gYTicks, gYLabels);
drawLine(pG, gFit, RED, 1.8);
drawLine(pG, gMsd, "#111", 1.8, d3.curveMonotoneX);

const pH = panel(layout.H, hXTicks, hXLabels, hYTicks, hYLabels);
drawLine(pH, hFit, RED, 1.8);
drawLine(pH, hMsd, "#111", 1.8, d3.curveMonotoneX);

const pI = panel(layout.I, iXTicks, iXLabels, iYTicks, iYLabels);
drawLine(pI, iFit, RED, 1.8);
drawLine(pI, iMsd, "#111", 1.8, d3.curveMonotoneX);

// ---------- text ----------
const titleX = [216, 625, 1029];
svg.selectAll("text.title").data(titles).join("text")
  .attr("class", "title")
  .attr("x", (d, i) => titleX[i]).attr("y", 28)
  .attr("text-anchor", "middle")
  .attr("font-size", 23).attr("font-weight", "bold").attr("fill", "#1a1a1a")
  .text(d => d);

const letterPos = [[11,42],[415,42],[826,42],[11,367],[417,367],[826,367],[9,688],[414,688],[825,688]];
svg.selectAll("text.letter").data(letters).join("text")
  .attr("class", "letter")
  .attr("x", (d, i) => letterPos[i][0]).attr("y", (d, i) => letterPos[i][1])
  .attr("font-size", 36).attr("font-weight", "bold").attr("fill", "#111")
  .attr("font-family", "Liberation Sans, Arial, sans-serif")
  .text(d => d);

function axisTitle(x, y, bold, rest, rotate, sup) {
  const t = svg.append("text")
    .attr("text-anchor", "middle").attr("font-size", 17).attr("fill", "#222");
  if (rotate) t.attr("transform", `translate(${x},${y}) rotate(-90)`).attr("dy", "0.36em");
  else t.attr("x", x).attr("y", y);
  t.append("tspan").attr("font-weight", "bold").text(bold);
  t.append("tspan").text(rest);
  if (sup) {
    t.append("tspan").attr("dy", -7).attr("font-size", 11).text(sup);
    t.append("tspan").attr("dy", 7).text(")");
  }
}

axisTitle(212, 340, "X", " (µm)");
axisTitle(628, 340, "X", " (µm)");
axisTitle(1027, 340, "X", " (µm)");
axisTitle(212, 658, "time", " (s)");
axisTitle(622, 658, "time", " (s)");
axisTitle(1034, 658, "time", " (s)");
axisTitle(212, 985, "time", " (s)");
axisTitle(625, 985, "time", " (s)");
axisTitle(1039, 985, "time", " (s)");

axisTitle(57, 172, "Y", " (µm)", true);
axisTitle(460, 172, "Y", " (µm)", true);
axisTitle(866, 173, "Y", " (µm)", true);
axisTitle(51, 488, "X,Y", " (µm)", true);
axisTitle(452, 488, "X,Y", " (µm)", true);
axisTitle(867, 488, "X,Y", " (µm)", true);
axisTitle(47, 820, "MSD", " (µm", true, "2");
axisTitle(428, 820, "MSD", " (µm", true, "2");
axisTitle(836, 820, "MSD", " (µm", true, "2");
</script>
</body>
</html>
